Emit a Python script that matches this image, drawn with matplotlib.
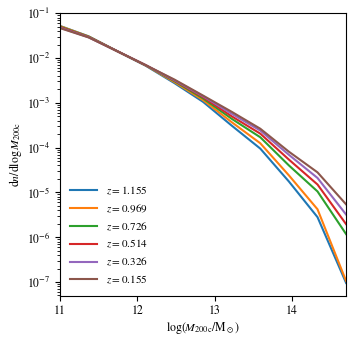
import numpy as np
import matplotlib
matplotlib.use("Agg")
import matplotlib.pyplot as plt

plt.rcParams['font.family'] = 'STIXGeneral'
plt.rcParams['mathtext.fontset'] = 'stix'
plt.rcParams['font.size'] = 8.5

# log10 of halo mass bins
log_mass = [11.0, 11.37, 11.74, 12.11, 12.48, 12.85, 13.22, 13.59, 13.96, 14.33, 14.7]

redshifts = ['1.155', '0.969', '0.726', '0.514', '0.326', '0.155']

hmf_z1155 = [5.2e-2, 3.05e-2, 1.42e-2, 6.7e-3, 2.75e-3, 1.05e-3, 3.1e-4, 9.5e-5, 1.75e-5, 2.8e-6, 9.5e-8]
hmf_z0969 = [5.15e-2, 3.02e-2, 1.42e-2, 6.8e-3, 2.9e-3, 1.15e-3, 3.7e-4, 1.25e-4, 2.4e-5, 4.2e-6, 1.05e-7]
hmf_z0726 = [5.0e-2, 2.98e-2, 1.42e-2, 6.85e-3, 3.05e-3, 1.25e-3, 4.4e-4, 1.7e-4, 4.0e-5, 1.05e-5, 1.17e-6]
hmf_z0514 = [4.9e-2, 2.94e-2, 1.42e-2, 6.9e-3, 3.15e-3, 1.33e-3, 5.0e-4, 2.05e-4, 5.4e-5, 1.5e-5, 1.95e-6]
hmf_z0326 = [4.75e-2, 2.9e-2, 1.42e-2, 6.9e-3, 3.2e-3, 1.4e-3, 5.7e-4, 2.4e-4, 6.9e-5, 2.1e-5, 3.2e-6]
hmf_z0155 = [4.65e-2, 2.88e-2, 1.42e-2, 6.9e-3, 3.3e-3, 1.45e-3, 6.3e-4, 2.64e-4, 8.1e-5, 2.8e-5, 5.4e-6]

all_hmf = [hmf_z1155, hmf_z0969, hmf_z0726, hmf_z0514, hmf_z0326, hmf_z0155]

fig = plt.figure(figsize=(3.55, 3.44), dpi=100)
ax = fig.add_axes([0.169, 0.140, 0.806, 0.822])

for z, hmf in zip(redshifts, all_hmf):
    ax.plot(log_mass, hmf, lw=1.5, label=r'$z=%s$' % z)

ax.set_yscale('log')
ax.set_xlim(11, 14.7)
ax.set_xticks([11, 12, 13, 14])
ax.set_xlabel(r'$\log(M_{\rm 200c}/{\rm M}_\odot)$', labelpad=2)
ax.set_ylabel(r'$\mathrm{d}n/\mathrm{d}\log M_{\rm 200c}$', labelpad=2)
ax.legend(loc='lower left', frameon=False, fontsize=8, handlelength=2.4)

fig.savefig('out.png', dpi=100)
